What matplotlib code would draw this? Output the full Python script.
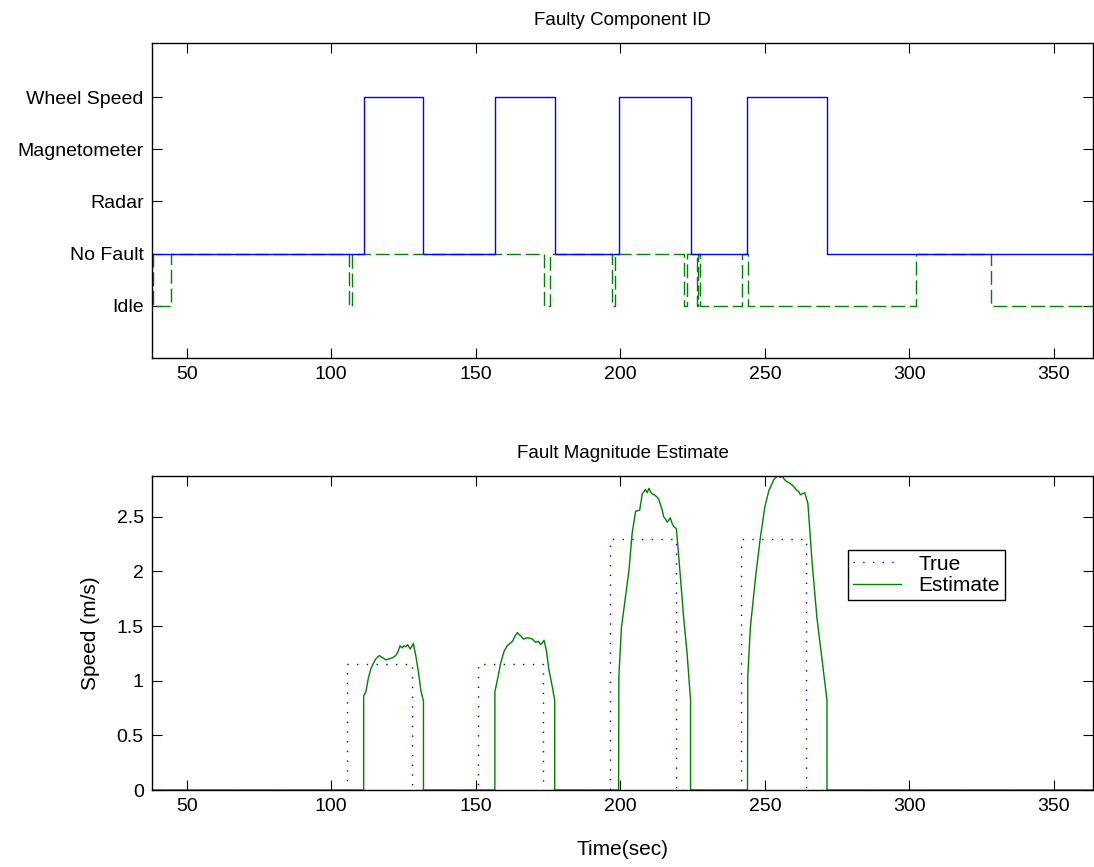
import matplotlib
matplotlib.use('Agg')
import matplotlib.pyplot as plt

plt.rcParams['font.family'] = ['Liberation Sans', 'DejaVu Sans']
plt.rcParams['font.size'] = 14

t_start = 38.0
t_end = 363.5

# faulty component id (solid blue): change times and levels
comp_t = [38.0, 111.2, 131.9, 156.6, 177.3, 199.4, 224.3, 244.0, 271.6, 363.5]
comp_v = [1, 4, 1, 4, 1, 4, 1, 4, 1, 1]

# diagnoser state (dashed green)
state_t = [38.0, 38.3, 44.6, 106.2, 107.0, 173.7, 175.5, 197.0, 198.3, 222.2,
           223.2, 226.5, 226.9, 227.4, 242.1, 244.1, 302.2, 328.2, 363.5]
state_v = [1, 0, 1, 0, 1, 0, 1, 0, 1, 0,
           1, 0, 1, 0, 1, 0, 1, 0, 0]
ylabels = ['Idle', 'No Fault', 'Radar', 'Magnetometer', 'Wheel Speed']

# true fault magnitude (dotted blue)
true_t = [38.0, 105.3, 105.3, 128.1, 128.1, 150.8, 150.8, 173.4, 173.4,
          196.3, 196.3, 219.2, 219.2, 241.6, 241.6, 264.2, 264.2, 363.5]
true_v = [0, 0, 1.155, 1.155, 0, 0, 1.155, 1.155, 0,
          0, 2.30, 2.30, 0, 0, 2.30, 2.30, 0, 0]

# estimated magnitude (solid green), one list per pulse
p1_t = [111.2, 111.4, 112.0, 112.8, 113.7, 114.6, 115.4, 116.6, 117.8, 118.9, 120.0,
        121.2, 122.3, 123.0, 123.8, 124.5, 125.2, 125.8, 126.4, 127.3, 128.0, 128.4,
        129.3, 130.2, 131.0, 131.9]
p1_v = [0.86, 0.87, 0.90, 1.02, 1.11, 1.16, 1.20, 1.23, 1.21, 1.19, 1.20,
        1.21, 1.23, 1.26, 1.32, 1.30, 1.32, 1.31, 1.33, 1.29, 1.32, 1.34,
        1.22, 1.07, 0.91, 0.81]
p2_t = [156.6, 157.5, 158.6, 159.8, 160.9, 161.8, 162.7, 163.6, 164.4, 165.0, 165.6,
        166.5, 167.3, 168.4, 169.6, 170.7, 171.6, 172.5, 173.1, 173.6, 174.4, 175.3,
        176.5, 177.3]
p2_v = [0.90, 1.01, 1.16, 1.27, 1.32, 1.34, 1.36, 1.41, 1.44, 1.42, 1.41,
        1.38, 1.39, 1.39, 1.38, 1.35, 1.36, 1.33, 1.35, 1.37, 1.28, 1.10,
        0.94, 0.82]
p3_t = [199.4, 199.5, 200.4, 201.8, 203.0, 204.1, 205.3, 206.7, 207.6, 208.2, 208.7,
        209.3, 209.9, 210.4, 211.0, 211.8, 212.7, 213.3, 213.9, 214.5, 215.0, 215.6,
        216.2, 216.8, 217.3, 217.9, 218.5, 219.4, 220.6, 221.9, 223.1, 224.3]
p3_v = [0.0, 1.04, 1.49, 1.77, 2.01, 2.35, 2.55, 2.56, 2.71, 2.73, 2.75,
        2.72, 2.76, 2.73, 2.71, 2.70, 2.68, 2.66, 2.61, 2.56, 2.50, 2.48,
        2.45, 2.47, 2.49, 2.44, 2.41, 2.39, 2.01, 1.58, 1.25, 0.82]
p4_t = [244.0, 244.1, 245.0, 246.8, 248.5, 250.0, 251.4, 252.3, 253.1, 253.9, 254.6,
        255.3, 256.0, 256.8, 257.7, 258.5, 259.4, 260.2, 261.1, 261.7, 262.3, 263.0,
        263.8, 264.9, 266.3, 268.0, 269.8, 271.5]
p4_v = [0.0, 1.04, 1.49, 1.95, 2.32, 2.59, 2.74, 2.79, 2.84, 2.86, 2.88,
        2.86, 2.87, 2.84, 2.82, 2.81, 2.79, 2.77, 2.74, 2.73, 2.70, 2.71,
        2.72, 2.62, 2.10, 1.58, 1.19, 0.82]

est_t = [t_start]
est_v = [0.0]
for pt, pv in [(p1_t, p1_v), (p2_t, p2_v), (p3_t, p3_v), (p4_t, p4_v)]:
    est_t += [pt[0]] + pt + [pt[-1]]
    est_v += [0.0] + pv + [0.0]
est_t.append(t_end)
est_v.append(0.0)

fig = plt.figure(figsize=(10.94, 8.67), dpi=100)
ax1 = fig.add_axes([0.139, 0.587, 0.86, 0.363])
ax2 = fig.add_axes([0.139, 0.0888, 0.86, 0.3625])

ax1.plot(state_t, state_v, '--', color=(0, 0.5, 0), lw=1, drawstyle='steps-post',
         dashes=(10, 3.5))
ax1.plot(comp_t, comp_v, '-', color='b', lw=1, drawstyle='steps-post')
ax1.set_xlim(t_start, t_end)
ax1.set_ylim(-1, 5.03)
ax1.set_yticks(range(len(ylabels)))
ax1.set_yticklabels(ylabels)
ax1.set_xticks(range(50, 351, 50))
ax1.set_title('Faulty Component ID', fontsize=13.5, pad=13)

ax2.plot(true_t, true_v, ':', color='b', lw=1, dashes=(1, 6), label='True')
ax2.plot(est_t, est_v, '-', color=(0, 0.5, 0), lw=1, label='Estimate')
ax2.set_xlim(t_start, t_end)
ax2.set_ylim(0, 2.875)
ax2.set_xticks(range(50, 351, 50))
ax2.set_yticks([0, 0.5, 1, 1.5, 2, 2.5])
ax2.set_yticklabels(['0', '0.5', '1', '1.5', '2', '2.5'])
ax2.set_title('Fault Magnitude Estimate', fontsize=13.5, pad=13)
ax2.set_xlabel('Time(sec)', fontsize=15, labelpad=18)
ax2.set_ylabel('Speed (m/s)', fontsize=15, labelpad=12)
leg = ax2.legend(loc='upper left', bbox_to_anchor=(0.74, 0.765), fancybox=False,
                 edgecolor='k', framealpha=1, borderpad=0.25, handlelength=2.3,
                 borderaxespad=0, labelspacing=0.1, fontsize=15)
leg.get_frame().set_linewidth(1)

for ax in (ax1, ax2):
    ax.tick_params(direction='in', top=True, right=True, length=7, labelsize=14,
                   pad=6)
    for s in ax.spines.values():
        s.set_linewidth(1)

fig.savefig('out.png', dpi=100)
